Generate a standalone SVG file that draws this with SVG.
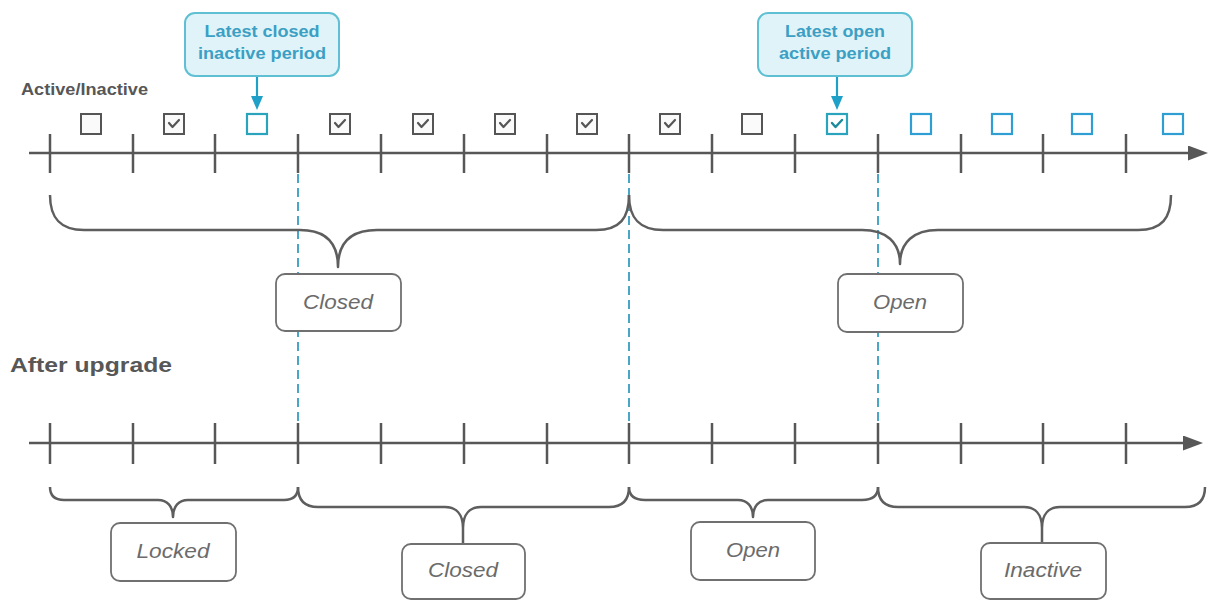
<svg xmlns="http://www.w3.org/2000/svg" width="1213" height="601" viewBox="0 0 1213 601">
<style>
.axis{stroke:#575757;stroke-width:2.5;fill:none}
.tick{stroke:#575757;stroke-width:2.5}
.brace{stroke:#5e5e5e;stroke-width:2.5;fill:none;stroke-linejoin:round}
.dash{stroke:#4aa6c6;stroke-width:2;stroke-dasharray:9 5;fill:none}
.cb{fill:#fafafa;stroke:#555;stroke-width:2}
.cbb{fill:#fff;stroke:#2f9ed2;stroke-width:2.2}
.cbt{fill:#fff;stroke:#2aa3bd;stroke-width:2.2}
.chk{fill:none;stroke:#555;stroke-width:2.2;stroke-linecap:round;stroke-linejoin:round}
.chkt{fill:none;stroke:#1d8a9c;stroke-width:2.4;stroke-linecap:round;stroke-linejoin:round}
.call{fill:#dff3f8;stroke:#5ec0d2;stroke-width:2}
.calltxt{font-family:"Liberation Sans",Arial,sans-serif;font-weight:bold;font-size:16px;fill:#3c9fc4;text-anchor:middle}
.carrow{stroke:#1fa0c8;stroke-width:2.2}
.lbl{fill:#fff;stroke:#707070;stroke-width:1.8}
.lbltxt{font-family:"Liberation Sans",Arial,sans-serif;font-style:italic;font-size:20px;fill:#6b6b6b;text-anchor:middle}
.head{font-family:"Liberation Sans",Arial,sans-serif;font-weight:bold;fill:#575757}
</style>
<defs>
<marker id="ah" viewBox="0 0 20 15" markerWidth="20" markerHeight="15" refX="2" refY="7.5" orient="auto" markerUnits="userSpaceOnUse"><path d="M0,0 L20,7.5 L0,15 z" fill="#575757"/></marker>
<marker id="bh" viewBox="0 0 14 12" markerWidth="14" markerHeight="12" refX="2" refY="6" orient="auto" markerUnits="userSpaceOnUse"><path d="M0,0 L14,6 L0,12 z" fill="#1fa0c8"/></marker>
</defs>
<rect width="1213" height="601" fill="#fff"/>

<g id="dashed-guides">
<line class="dash" x1="298" y1="160" x2="298" y2="445"/>
<line class="dash" x1="629" y1="160" x2="629" y2="445"/>
<line class="dash" x1="878" y1="160" x2="878" y2="445"/>
</g>

<text id="label-active-inactive" class="head" x="21" y="95" font-size="16" textLength="127" lengthAdjust="spacingAndGlyphs">Active/Inactive</text>
<text id="label-after-upgrade" class="head" x="10" y="372" font-size="21" textLength="162" lengthAdjust="spacingAndGlyphs">After upgrade</text>

<g id="connectors">
<line class="axis" x1="29" y1="153" x2="1190" y2="153" marker-end="url(#ah)"/>
<line class="axis" x1="29" y1="443" x2="1185" y2="443" marker-end="url(#ah)"/>
<g id="ticks-top">
<line class="tick" x1="50" y1="134" x2="50" y2="173"/>
<line class="tick" x1="133" y1="134" x2="133" y2="173"/>
<line class="tick" x1="215" y1="134" x2="215" y2="173"/>
<line class="tick" x1="298" y1="134" x2="298" y2="173"/>
<line class="tick" x1="381" y1="134" x2="381" y2="173"/>
<line class="tick" x1="464" y1="134" x2="464" y2="173"/>
<line class="tick" x1="547" y1="134" x2="547" y2="173"/>
<line class="tick" x1="629" y1="134" x2="629" y2="173"/>
<line class="tick" x1="712" y1="134" x2="712" y2="173"/>
<line class="tick" x1="795" y1="134" x2="795" y2="173"/>
<line class="tick" x1="878" y1="134" x2="878" y2="173"/>
<line class="tick" x1="961" y1="134" x2="961" y2="173"/>
<line class="tick" x1="1043" y1="134" x2="1043" y2="173"/>
<line class="tick" x1="1126" y1="134" x2="1126" y2="173"/>
</g>
<g id="ticks-bottom">
<line class="tick" x1="50" y1="423" x2="50" y2="464"/>
<line class="tick" x1="133" y1="423" x2="133" y2="464"/>
<line class="tick" x1="215" y1="423" x2="215" y2="464"/>
<line class="tick" x1="298" y1="423" x2="298" y2="464"/>
<line class="tick" x1="381" y1="423" x2="381" y2="464"/>
<line class="tick" x1="464" y1="423" x2="464" y2="464"/>
<line class="tick" x1="547" y1="423" x2="547" y2="464"/>
<line class="tick" x1="629" y1="423" x2="629" y2="464"/>
<line class="tick" x1="712" y1="423" x2="712" y2="464"/>
<line class="tick" x1="795" y1="423" x2="795" y2="464"/>
<line class="tick" x1="878" y1="423" x2="878" y2="464"/>
<line class="tick" x1="961" y1="423" x2="961" y2="464"/>
<line class="tick" x1="1043" y1="423" x2="1043" y2="464"/>
<line class="tick" x1="1126" y1="423" x2="1126" y2="464"/>
</g>
<g id="braces-top">
<path class="brace" d="M50,195 C50,218 60,230 84,230 L300,230 C325,230 338,242 338,267 C338,242 352,230 377,230 L596,230 C620,230 629,218 629,195"/>
<path class="brace" d="M629,195 C629,218 639,230 663,230 L862,230 C886,230 900,242 900,264 C900,242 914,230 938,230 L1138,230 C1162,230 1171,218 1171,195"/>
</g>
<g id="braces-bottom">
<path class="brace" d="M50,487 C50,496 55,500 64,500 L158,500 C167,500 173,506 173,517 C173,506 179,500 188,500 L284,500 C293,500 298,496 298,487"/>
<path class="brace" d="M298,487 C298,500 304,507 318,507 L445,507 C456,507 463,514 463,528 L463,544 M463,528 C463,514 470,507 481,507 L609,507 C623,507 629,500 629,487"/>
<path class="brace" d="M629,487 C629,496 634,500 645,500 L738,500 C747,500 753,506 753,517 C753,506 759,500 768,500 L862,500 C873,500 878,496 878,487"/>
<path class="brace" d="M878,487 C878,500 884,507 898,507 L1024,507 C1035,507 1042,514 1042,528 L1042,543 M1042,528 C1042,514 1049,507 1060,507 L1185,507 C1199,507 1205,500 1205,487"/>
</g>
<line class="carrow" x1="257" y1="77" x2="257" y2="98" marker-end="url(#bh)"/>
<line class="carrow" x1="837" y1="77" x2="837" y2="98" marker-end="url(#bh)"/>
</g>

<g id="checkboxes">
<rect class="cb" x="81" y="114" width="20" height="20"/>
<g><rect class="cb" x="164" y="114" width="20" height="20"/><path class="chk" d="M169,123 L172.5,127 L179,120"/></g>
<rect class="cbt" x="247" y="114" width="20" height="20"/>
<g><rect class="cb" x="330" y="114" width="20" height="20"/><path class="chk" d="M335,123 L338.5,127 L345,120"/></g>
<g><rect class="cb" x="413" y="114" width="20" height="20"/><path class="chk" d="M418,123 L421.5,127 L428,120"/></g>
<g><rect class="cb" x="495" y="114" width="20" height="20"/><path class="chk" d="M500,123 L503.5,127 L510,120"/></g>
<g><rect class="cb" x="577" y="114" width="20" height="20"/><path class="chk" d="M582,123 L585.5,127 L592,120"/></g>
<g><rect class="cb" x="660" y="114" width="20" height="20"/><path class="chk" d="M665,123 L668.5,127 L675,120"/></g>
<rect class="cb" x="742" y="114" width="20" height="20"/>
<g><rect class="cbt" x="827" y="114" width="20" height="20"/><path class="chkt" d="M832,123 L835.5,127 L842,120"/></g>
<rect class="cbb" x="911" y="114" width="20" height="20"/>
<rect class="cbb" x="992" y="114" width="20" height="20"/>
<rect class="cbb" x="1072" y="114" width="20" height="20"/>
<rect class="cbb" x="1163" y="114" width="20" height="20"/>
</g>

<g id="callout-closed-inactive">
<rect class="call" x="185" y="13" width="154" height="63" rx="10"/>
<text class="calltxt" x="262" y="37" textLength="115" lengthAdjust="spacingAndGlyphs">Latest closed</text>
<text class="calltxt" x="262" y="59" textLength="128" lengthAdjust="spacingAndGlyphs">inactive period</text>
</g>
<g id="callout-open-active">
<rect class="call" x="758" y="13" width="154" height="63" rx="10"/>
<text class="calltxt" x="835" y="37" textLength="100" lengthAdjust="spacingAndGlyphs">Latest open</text>
<text class="calltxt" x="835" y="59" textLength="112" lengthAdjust="spacingAndGlyphs">active period</text>
</g>

<g id="node-top-closed">
<rect class="lbl" x="276" y="274" width="125" height="57" rx="9"/>
<text class="lbltxt" x="338" y="309" textLength="70" lengthAdjust="spacingAndGlyphs">Closed</text>
</g>
<g id="node-top-open">
<rect class="lbl" x="838" y="274" width="125" height="58" rx="9"/>
<text class="lbltxt" x="900" y="309" textLength="54" lengthAdjust="spacingAndGlyphs">Open</text>
</g>
<g id="node-locked">
<rect class="lbl" x="111" y="523" width="125" height="58" rx="9"/>
<text class="lbltxt" x="173" y="558" textLength="73" lengthAdjust="spacingAndGlyphs">Locked</text>
</g>
<g id="node-bottom-closed">
<rect class="lbl" x="402" y="544" width="123" height="55" rx="9"/>
<text class="lbltxt" x="463" y="577" textLength="70" lengthAdjust="spacingAndGlyphs">Closed</text>
</g>
<g id="node-bottom-open">
<rect class="lbl" x="691" y="522" width="124" height="58" rx="9"/>
<text class="lbltxt" x="753" y="557" textLength="54" lengthAdjust="spacingAndGlyphs">Open</text>
</g>
<g id="node-inactive">
<rect class="lbl" x="981" y="543" width="125" height="56" rx="9"/>
<text class="lbltxt" x="1043" y="577" textLength="78" lengthAdjust="spacingAndGlyphs">Inactive</text>
</g>
</svg>
